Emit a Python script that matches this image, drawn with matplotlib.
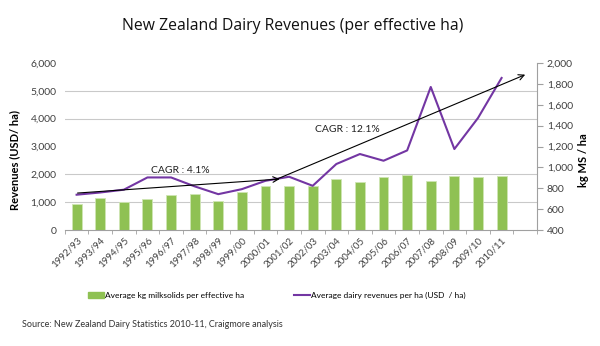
import matplotlib
matplotlib.use("Agg")
import matplotlib.pyplot as plt
import numpy as np
from matplotlib.patches import Patch
from matplotlib.lines import Line2D

plt.rcParams['font.family'] = ['Lato', 'DejaVu Sans']

# data
seasons = ['1992/93', '1993/94', '1994/95', '1995/96', '1996/97', '1997/98', '1998/99',
           '1999/00', '2000/01', '2001/02', '2002/03', '2003/04', '2004/05', '2005/06',
           '2006/07', '2007/08', '2008/09', '2009/10', '2010/11']
# kg milksolids per effective ha (right axis)
milksolids = [652, 707, 668, 700, 738, 748, 681, 767, 822, 822, 822, 889, 860, 908,
              930, 872, 920, 911, 920]
# dairy revenues USD per ha (left axis)
revenues = [1270, 1350, 1450, 1890, 1890, 1570, 1290, 1470, 1770, 1915, 1590, 2372,
            2731, 2490, 2860, 5138, 2910, 4024, 5462]

# CAGR arrows: (start index, start value) -> (end index, end value)
cagr1 = [(0.04, 1330), (8.6, 1833)]
cagr2 = [(8.4, 1800), (19.0, 5580)]
cagr1_label = 'CAGR : 4.1%'
cagr2_label = 'CAGR : 12.1%'

bar_color = '#8fc153'
line_color = '#7336a3'
grid_color = '#c9c9c9'
text_color = '#404040'

fig = plt.figure(figsize=(6, 3.46), dpi=100)
ax = fig.add_axes([0.108, 0.335, 0.787, 0.483])
ax2 = ax.twinx()
ax.set_zorder(2)
ax.patch.set_visible(False)
ax2.set_zorder(1)

x = np.arange(len(seasons))

# bars on the right-hand axis
ax2.bar(x, milksolids, width=0.42, color=bar_color, edgecolor='#cfe6b3', linewidth=0.6, zorder=2)
ax2.set_ylim(400, 2000)
ax2.set_yticks(np.arange(400, 2001, 200))
ax2.set_yticklabels(['{:,}'.format(v) for v in range(400, 2001, 200)], fontsize=7.5, color=text_color)
ax2.tick_params(axis='y', which='major', length=4, color='#a0a0a0', pad=3)
# horizontal gridlines matching the left axis ticks
ax2.set_yticks(np.linspace(400, 2000, 7), minor=True)
ax2.tick_params(axis='y', which='minor', length=0)
ax2.grid(which='minor', axis='y', color=grid_color, lw=0.8)
ax2.set_axisbelow(True)
ax2.set_ylabel('kg MS / ha', fontsize=8, fontweight='bold')
ax2.yaxis.set_label_coords(1.087, 0.42)

# revenue line on the left axis
ax.plot(x, revenues, color=line_color, lw=1.5, zorder=3)
ax.set_ylim(0, 6000)
ax.set_yticks(range(0, 6001, 1000))
ax.set_yticklabels(['{:,}'.format(v) for v in range(0, 6001, 1000)], fontsize=7.5, color=text_color)
ax.tick_params(axis='y', length=0, pad=6)
ax.set_ylabel('Revenues (USD/ ha)', fontsize=8, fontweight='bold')
ax.yaxis.set_label_coords(-0.095, 0.42)

ax.set_xlim(-0.5, 19.5)
ax.set_xticks(x)
ax.set_xticklabels(seasons, rotation=45, ha='right', rotation_mode='anchor', fontsize=7, color=text_color)
ax.tick_params(axis='x', which='major', length=0, pad=4)
ax.set_xticks(np.arange(-0.5, 19.6, 1), minor=True)
ax.tick_params(axis='x', which='minor', length=3, color='#a0a0a0')

for s in ['top', 'left', 'right']:
    ax.spines[s].set_visible(False)
ax.spines['bottom'].set_color('#a0a0a0')
for s in ['top', 'left', 'bottom']:
    ax2.spines[s].set_visible(False)
ax2.spines['right'].set_color('#a0a0a0')

# CAGR arrows
for (p0, p1) in [cagr1, cagr2]:
    ax.annotate('', xy=p1, xytext=p0,
                arrowprops=dict(arrowstyle='->', color='black', lw=0.8, shrinkA=0, shrinkB=0))
ax.text(4.4, 2140, cagr1_label, fontsize=7.5, ha='center', va='center', color='#202020')
ax.text(11.46, 3600, cagr2_label, fontsize=7.5, ha='center', va='center', color='#202020')

fig.text(0.487, 0.925, 'New Zealand Dairy Revenues (per effective ha)', ha='center', va='center',
         fontsize=11.3, family=['Open Sans', 'DejaVu Sans'], color='#111111')

handles = [Patch(color=bar_color), Line2D([0], [0], color=line_color, lw=1.5)]
labels = ['Average kg milksolids per effective ha', 'Average dairy revenues per ha (USD  / ha)']
fig.legend(handles, labels, ncol=2, loc='center left', bbox_to_anchor=(0.147, 0.147), frameon=False,
           fontsize=6, columnspacing=6.0, handlelength=1.9, handletextpad=0.15, handleheight=0.7,
           borderpad=0, borderaxespad=0)

fig.text(0.037, 0.061, 'Source: New Zealand Dairy Statistics 2010-11, Craigmore analysis',
         fontsize=6.5, color='#333333', va='center')

fig.savefig('out.png', dpi=100)
